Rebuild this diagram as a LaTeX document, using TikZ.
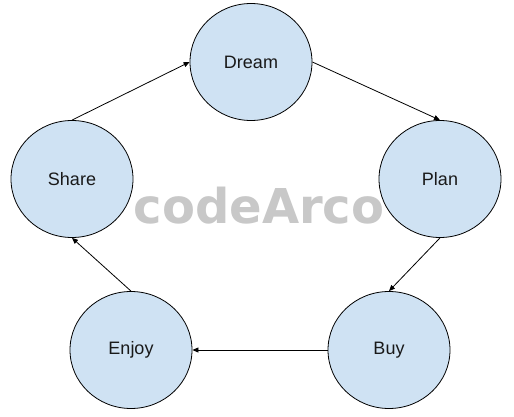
\documentclass[tikz,border=0pt]{standalone}
\usepackage{fontspec}
\setmainfont{Liberation Sans}
\newfontfamily\wmfont{DejaVu Sans}
\usetikzlibrary{shapes.geometric,arrows.meta}
\definecolor{circfill}{HTML}{CFE2F3}
\definecolor{wmgray}{RGB}{200,200,200}
\tikzset{
  stage/.style={ellipse, draw=black, line width=0.8pt, fill=circfill,
    minimum width=122pt, minimum height=117pt, inner sep=0pt,
    font=\fontsize{18}{20}\selectfont, text=black!90},
  link/.style={line width=0.8pt, -{Triangle[length=6pt,width=5pt]}},
  watermark/.style={font=\wmfont\bfseries\fontsize{48}{50}\selectfont, text=wmgray}
}
\begin{document}
\begin{tikzpicture}[x=1pt,y=-1pt]
\useasboundingbox (0,0) rectangle (514,417);
\fill[white] (0,0) rectangle (514,417);
\node[stage] (dream) at (251,62) {Dream};
\node[stage] (plan) at (440,179) {Plan};
\node[stage] (buy) at (389,350) {Buy};
\node[stage] (enjoy) at (131,350) {Enjoy};
\node[stage] (share) at (72,179) {Share};
\draw[link] (dream.east) -- (plan.north);
\draw[link] (plan.south) -- (buy.north);
\draw[link] (buy.west) -- (enjoy.east);
\draw[link] (enjoy.north) -- (share.south);
\draw[link] (share.north) -- (dream.west);
\node[watermark] (wm) at (259,206) {codeArco};
\end{tikzpicture}
\end{document}
